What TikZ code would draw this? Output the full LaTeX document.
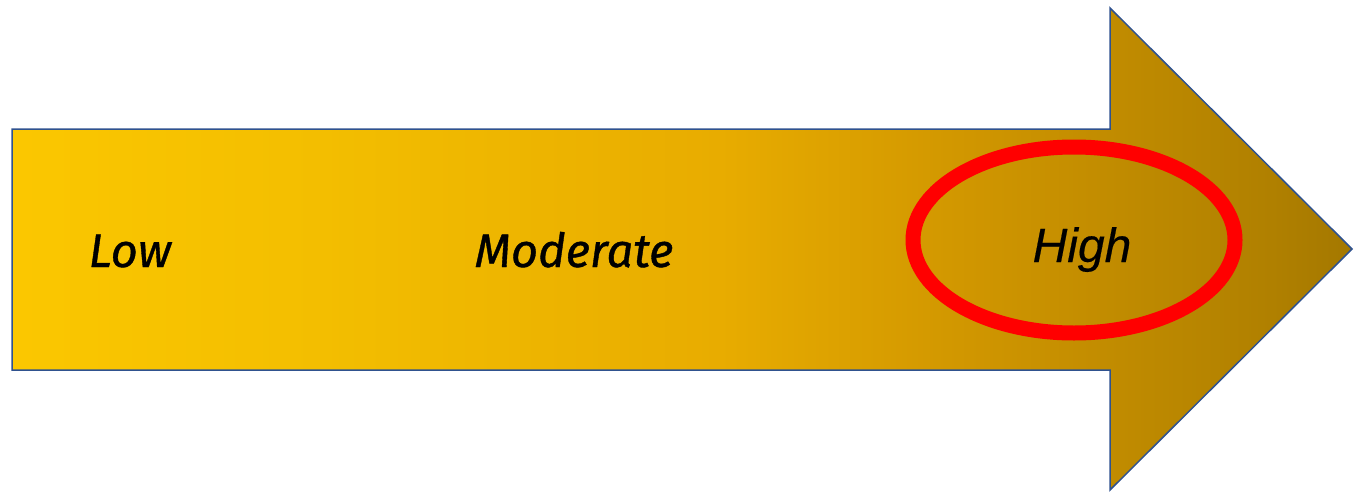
\documentclass[tikz,border=0pt]{standalone}
\usepackage{fontspec}
\setmainfont{Fira Sans}
\newfontfamily\levelfont{Fira Sans}[FakeBold=0.8]
\newfontfamily\arialfont{Liberation Sans}[FakeBold=0.4]
\usetikzlibrary{positioning}
\definecolor{arrowgold}{RGB}{251,199,0}
\definecolor{arrowlight}{RGB}{243,190,0}
\definecolor{arrowmid}{RGB}{232,172,0}
\definecolor{arrowdeep}{RGB}{208,150,0}
\definecolor{arrowbrown}{RGB}{176,128,0}
\definecolor{arrowdark}{RGB}{164,120,0}
\definecolor{arrowedge}{RGB}{47,82,143}
\definecolor{ringred}{RGB}{255,0,0}
\pgfdeclarehorizontalshading{goldramp}{100bp}{color(0bp)=(arrowgold); color(25bp)=(arrowgold);
  color(36.5bp)=(arrowlight); color(51.4bp)=(arrowmid); color(60.7bp)=(arrowdeep);
  color(72bp)=(arrowbrown); color(75bp)=(arrowdark); color(100bp)=(arrowdark)}

\begin{document}
\begin{tikzpicture}[x=.5pt,y=-.5pt,
  level/.style={font=\levelfont\fontsize{23.5}{27}\selectfont\itshape,text=black,inner sep=0pt,anchor=base},
  peak/.style={font=\arialfont\fontsize{24}{28}\selectfont\itshape,text=black,inner sep=0pt,anchor=base},
  scale arrow/.style={draw=arrowedge,line width=.75pt,shading=goldramp},
  ring/.style={draw=ringred,line width=7.5pt}]

\path[use as bounding box] (0,0) rectangle (1363,492);
% arrow body
\draw[scale arrow] (12,129) -- (1110,129) -- (1110,8) -- (1352,249)
  -- (1110,490) -- (1110,370) -- (12,370) -- cycle;
% labels
\node[level] (low) at (130,267) {Low};
\node[level] (moderate) at (574,267) {Moderate};
\node[peak] (high) at (1082,262) {High};
% highlight
\draw[ring] (1074,240) ellipse [x radius=161,y radius=93];

\end{tikzpicture}
\end{document}
